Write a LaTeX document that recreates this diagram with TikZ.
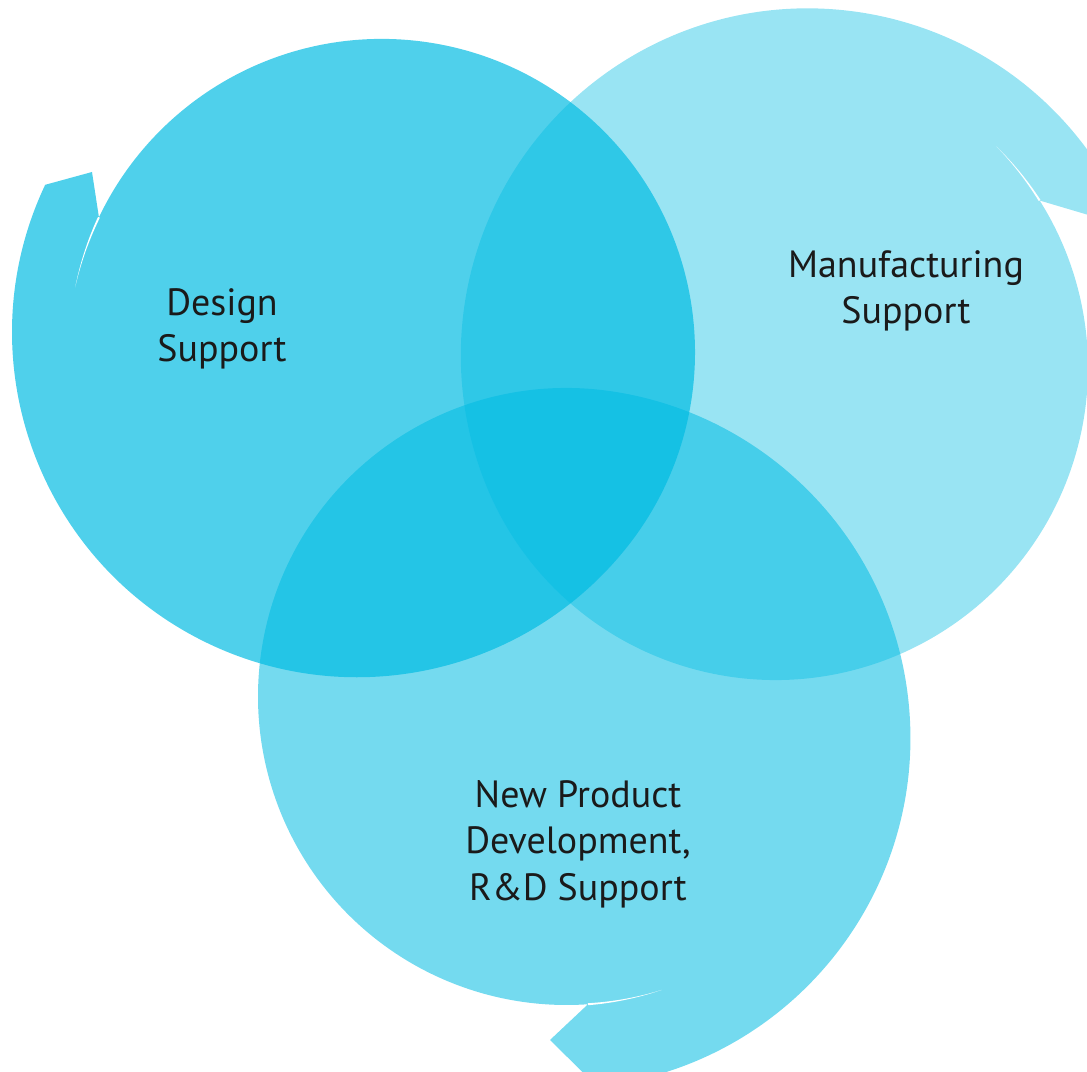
\documentclass[tikz,border=0pt]{standalone}
\usepackage{fontspec}
\setmainfont{PT Sans}
\definecolor{base}{RGB}{0,187,226}
\definecolor{ink}{RGB}{26,26,26}
\begin{document}
\begin{tikzpicture}[x=0.01cm,y=0.01cm,
  blob/.style={fill=base, draw=none},
  gap/.style={fill=white, draw=none},
  lbl/.style={align=center, text=ink, inner sep=0pt,
    font=\fontsize{10.8}{13.2}\selectfont}]
\useasboundingbox (0,0) rectangle (1087,1072);
\clip (0,0) rectangle (1087,1072);
% centres of the circles and of the tails' outer arcs
\coordinate (c1) at (381.7,719.8);
\coordinate (o1) at (357.07,739.75);
\coordinate (a1) at (92,900);
\coordinate (c2) at (775.5,704.5);
\coordinate (o2) at (807.8,716.64);
\coordinate (a2) at (1088.3,857.05);
\coordinate (c3) at (566.5,375.5);
\coordinate (o3) at (559.93,334.02);
\coordinate (a3) at (550,32);
% Design support
\fill[blob, fill opacity=0.69] ([shift={(154.7:345)}]o1)
  arc[start angle=154.7, end angle=321, radius=345]
  arc[start angle=321, end angle=514.5, radius=313.3] -- (a1) -- cycle;
% Manufacturing support
\fill[blob, fill opacity=0.40] ([shift={(33.7:347)}]o2)
  arc[start angle=33.7, end angle=200.6, radius=347]
  arc[start angle=200.6, end angle=392.3, radius=312.5] -- (a2) -- cycle;
% New product development
\fill[blob, fill opacity=0.545] ([shift={(276.1:350.5)}]o3)
  arc[start angle=276.1, end angle=441, radius=350.5]
  arc[start angle=441, end angle=634, radius=308.5] -- (a3) -- cycle;
% thin white gaps along the tails
\begin{scope}[shift={(c1)}]
  \fill[gap] plot[domain=154.5:168, samples=20] (\x:{313.3+1.0*(168-\x)/13.5})
    -- plot[domain=168:154.5, samples=20] (\x:{313.3-1.0*(168-\x)/13.5}) -- cycle;
\end{scope}
\begin{scope}[shift={(c2)}]
  \fill[gap] plot[domain=32.3:45, samples=20] (\x:{312.5+1.0*(45-\x)/12.7})
    -- plot[domain=45:32.3, samples=20] (\x:{312.5-1.0*(45-\x)/12.7}) -- cycle;
\end{scope}
\begin{scope}[shift={(c3)}]
  \fill[gap] plot[domain=274:288, samples=20] (\x:{308.5+1.0*(288-\x)/14})
    -- plot[domain=288:274, samples=20] (\x:{308.5-1.0*(288-\x)/14}) -- cycle;
\end{scope}
% labels
\node[lbl] (design) at (222,743) {Design\\Support};
\node[lbl] (manuf) at (906,781) {Manufacturing\\Support};
\node[lbl] (npd) at (578,228) {New Product\\Development,\\R\&D Support};
\end{tikzpicture}
\end{document}
